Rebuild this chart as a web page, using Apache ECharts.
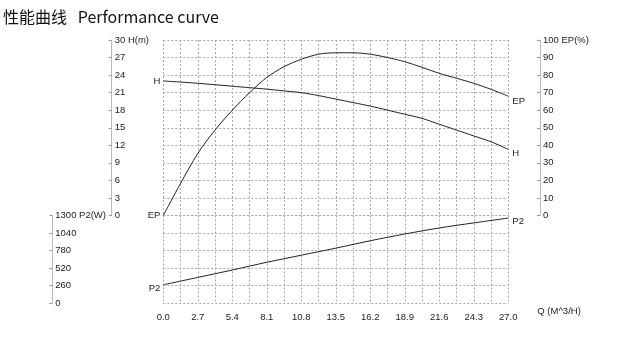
<!DOCTYPE html>
<html><head><meta charset="utf-8">
<script src="https://cdn.jsdelivr.net/npm/echarts@6/dist/echarts.min.js"></script>
<style>html,body{margin:0;padding:0;background:#fff}#c{width:621px;height:339px}</style>
</head><body><div id="c"></div>
<script>
// Data
var titleText = '性能曲线   Performance curve';
var qTicksLabel = ['0.0','2.7','5.4','8.1','10.8','13.5','16.2','18.9','21.6','24.3','27.0'];
var hQ  = [0, 2.7, 5.4, 6.75, 8.1, 9.45, 10.8, 12.15, 13.5, 14.85, 16.2, 17.55, 18.9, 20.25, 21.6, 22.95, 24.3, 25.65, 27];
var hV  = [23, 22.6, 22.1, 21.85, 21.6, 21.3, 21.0, 20.5, 19.9, 19.3, 18.7, 18.0, 17.3, 16.6, 15.6, 14.6, 13.6, 12.6, 11.3];
var epQ = [0, 1.35, 2.7, 4.05, 5.4, 6.75, 8.1, 9.45, 10.8, 12.15, 13.5, 14.85, 16.2, 17.55, 18.9, 20.25, 21.6, 22.95, 24.3, 25.65, 27];
var epV = [0, 18.3, 35.4, 48.7, 60, 70, 78.7, 84.8, 89, 91.9, 92.7, 92.7, 91.9, 90, 87.6, 84.4, 81, 78.2, 75.3, 71.9, 68];
var p2Q = [0, 2.7, 5.4, 8.1, 10.8, 13.5, 16.2, 18.9, 21.6, 24.3, 27];
var p2V = [270, 380, 490, 605, 710, 815, 925, 1025, 1115, 1190, 1262];

var FONT = "'Liberation Sans', Arial, sans-serif";
var FS = 9.5;
var TXT = '#222';
var GRIDLINE = {show:true, lineStyle:{color:'#aaa', type:[2,2], width:1}};

function build(qs, vs, name, leftOff, rightOff) {
  return qs.map(function(q, i){
    var item = {value:[q, vs[i]]};
    if (i === 0) item.label = {show:true, formatter:name, position:'left', distance:3, offset:leftOff};
    if (i === qs.length - 1) item.label = {show:true, formatter:name, position:'right', distance:4, offset:rightOff};
    return item;
  });
}

var labelStyle = {color:TXT, fontSize:FS, fontFamily:FONT};
var lineStyle = {color:'#222', width:1};

var chart = echarts.init(document.getElementById('c'), null, {renderer:'canvas'});
chart.setOption({
  animation:false,
  title:{text:titleText, left:3, top:9, padding:0, textStyle:{fontFamily:"'Noto Sans CJK SC', sans-serif", fontSize:16, fontWeight:'normal', color:'#111'}},
  grid:[
    {left:163.3, right:112.7, top:40, height:175.5},
    {left:163.3, right:112.7, top:215.5, height:87.5}
  ],
  xAxis:[
    {type:'value', gridIndex:0, min:0, max:27, interval:2.7,
     axisLine:{show:false}, axisTick:{show:false}, axisLabel:{show:false},
     splitLine:GRIDLINE, minorTick:{show:false, splitNumber:2}, minorSplitLine:GRIDLINE},
    {type:'value', gridIndex:1, min:0, max:27, interval:2.7,
     axisLine:{show:false}, axisTick:{show:false},
     axisLabel:{color:TXT, fontSize:FS, fontFamily:FONT, margin:9,
       formatter:function(v){ var i = Math.round(v/2.7); return qTicksLabel[i]; }},
     name:'Q (M^3/H)', nameLocation:'end', nameGap:29,
     nameTextStyle:{color:TXT, fontSize:FS, fontFamily:FONT, verticalAlign:'top', padding:[3,0,0,0]},
     splitLine:GRIDLINE, minorTick:{show:false, splitNumber:2}, minorSplitLine:GRIDLINE}
  ],
  yAxis:[
    {type:'value', gridIndex:0, position:'left', offset:51.6, min:0, max:30, interval:3,
     axisLine:{show:true, onZero:false, lineStyle:{color:'#bbb'}}, axisTick:{show:true, inside:false, length:3, lineStyle:{color:'#999'}},
     axisLabel:{inside:true, margin:3, color:TXT, fontSize:FS, fontFamily:FONT,
       formatter:function(v){ return v === 30 ? '30 H(m)' : String(v); }},
     splitLine:GRIDLINE},
    {type:'value', gridIndex:0, position:'right', offset:31.7, min:0, max:100, interval:10,
     axisLine:{show:true, onZero:false, lineStyle:{color:'#bbb'}}, axisTick:{show:true, inside:true, length:3, lineStyle:{color:'#999'}},
     axisLabel:{margin:3, color:TXT, fontSize:FS, fontFamily:FONT,
       formatter:function(v){ return v === 100 ? '100 EP(%)' : String(v); }},
     splitLine:{show:false}},
    {type:'value', gridIndex:1, position:'left', offset:111, min:0, max:1300, interval:260,
     axisLine:{show:true, onZero:false, lineStyle:{color:'#bbb'}}, axisTick:{show:true, inside:false, length:3, lineStyle:{color:'#999'}},
     axisLabel:{inside:true, margin:3, color:TXT, fontSize:FS, fontFamily:FONT,
       formatter:function(v){ return v === 1300 ? '1300 P2(W)' : String(v); }},
     splitLine:GRIDLINE}
  ],
  series:[
    {type:'line', xAxisIndex:0, yAxisIndex:0, smooth:0.3, symbol:'circle', symbolSize:0, showSymbol:true,
     lineStyle:lineStyle, label:labelStyle, data:build(hQ, hV, 'H', [0,0], [0,4])},
    {type:'line', xAxisIndex:0, yAxisIndex:1, smooth:0.3, symbol:'circle', symbolSize:0, showSymbol:true,
     lineStyle:lineStyle, label:labelStyle, data:build(epQ, epV, 'EP', [0,0], [0,5])},
    {type:'line', xAxisIndex:1, yAxisIndex:2, smooth:0.3, symbol:'circle', symbolSize:0, showSymbol:true,
     lineStyle:lineStyle, label:labelStyle, data:build(p2Q, p2V, 'P2', [0,4], [0,3])}
  ]
});
</script></body></html>
